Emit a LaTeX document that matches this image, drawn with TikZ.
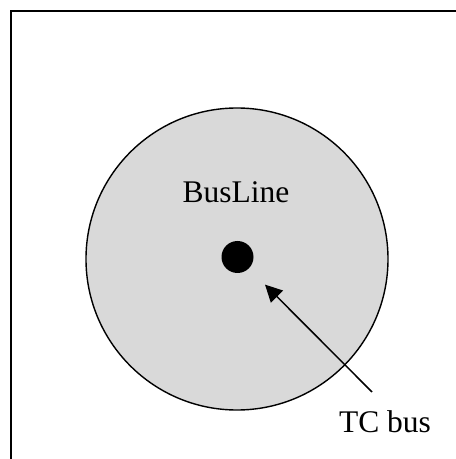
\documentclass[tikz,border=0pt]{standalone}
\usepackage{fontspec}
\setmainfont{Liberation Serif}
\usetikzlibrary{arrows.meta}
\definecolor{disc}{HTML}{D9D9D9}
\tikzset{
  frameline/.style={line width=1.5pt, black},
  outline/.style={line width=1.4pt, black},
  label/.style={font=\fontsize{31.5}{36}\selectfont, inner sep=0pt, anchor=base},
  pointer/.style={line width=1.5pt, -{Triangle[length=17pt,width=17pt]}},
}
\begin{document}
\begin{tikzpicture}[x=1pt,y=1pt]
  \useasboundingbox (0,0) rectangle (456,459);
  % frame: only the top and left edges fall inside the page
  \draw[frameline] (11,0) -- (11,448) -- (456,448);
  % bus area
  \node[circle, draw, outline, fill=disc, minimum size=302pt, inner sep=0pt] (area) at (237,200) {};
  \node[label] (busline) at (236,256) {BusLine};
  % the bus itself
  \node[circle, fill=black, minimum size=32pt, inner sep=0pt] (dot) at (237.5,202) {};
  % callout
  \node[label] (tcbus) at (385,27) {TC bus};
  \coordinate (tcstart) at (372,67);
  \draw[pointer, shorten >=39pt] (tcstart) -- (dot.center);
\end{tikzpicture}
\end{document}
